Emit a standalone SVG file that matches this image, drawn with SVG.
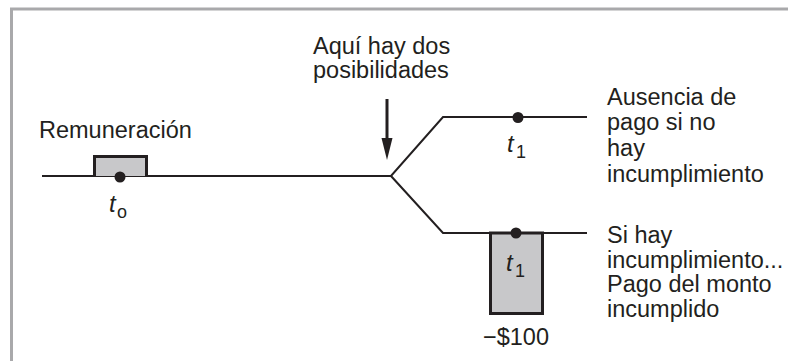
<svg xmlns="http://www.w3.org/2000/svg" width="788" height="361" viewBox="0 0 788 361">
<defs>
<style>
.frame{stroke:#a9a9ab;stroke-width:3;fill:none}
.ln{stroke:#231f20;stroke-width:2;fill:none}
.box{fill:#c8c8ca;stroke:#231f20;stroke-width:3}
.dot{fill:#231f20}
.t{font-family:"Liberation Sans",Arial,sans-serif;font-size:23.5px;fill:#231f20}
.ti{font-family:"Liberation Sans",Arial,sans-serif;font-size:24px;font-style:italic;fill:#231f20}
.sub{font-family:"Liberation Sans",Arial,sans-serif;font-size:18px;fill:#231f20}
</style>
</defs>
<rect width="788" height="361" fill="#fff"/>
<path class="frame" d="M11.5,361 V9 H788"/>
<g id="connectors">
<path class="ln" d="M42,176 H391 L443,117 H587"/>
<path class="ln" d="M391,176 L443,233 H587"/>
<path d="M387,99 V140" stroke="#231f20" stroke-width="3"/>
<path d="M381.5,138 L392.5,138 L387,160 Z" fill="#231f20"/>
</g>
<g id="t0-node">
<path class="box" d="M94.5,176 V156.5 H146.5 V176"/>
<circle class="dot" cx="120" cy="177" r="5.5"/>
<text class="ti" x="109" y="212">t</text><text class="sub" x="117" y="218">o</text>
</g>
<g id="label-remuneracion"><text class="t" x="39" y="138">Remuneración</text></g>
<g id="label-posibilidades">
<text class="t" x="313" y="54">Aquí hay dos<tspan x="313" dy="24">posibilidades</tspan></text>
</g>
<g id="t1-upper">
<circle class="dot" cx="518" cy="117.5" r="5.5"/>
<text class="ti" x="507" y="152">t</text><text class="sub" x="516" y="158">1</text>
</g>
<g id="label-ausencia">
<text class="t" x="607" y="105">Ausencia de<tspan x="607" dy="25">pago si no</tspan><tspan x="607" dy="26">hay</tspan><tspan x="607" dy="26">incumplimiento</tspan></text>
</g>
<g id="t1-lower">
<rect class="box" x="490.5" y="233" width="52" height="80.5"/>
<circle class="dot" cx="516" cy="233" r="5.5"/>
<text class="ti" x="506" y="271">t</text><text class="sub" x="515" y="277">1</text>
<text class="t" x="516" y="345" text-anchor="middle">−$100</text>
</g>
<g id="label-si-hay">
<text class="t" x="607" y="243">Si hay<tspan x="607" dy="25">incumplimiento...</tspan><tspan x="607" dy="24">Pago del monto</tspan><tspan x="607" dy="25">incumplido</tspan></text>
</g>
</svg>
